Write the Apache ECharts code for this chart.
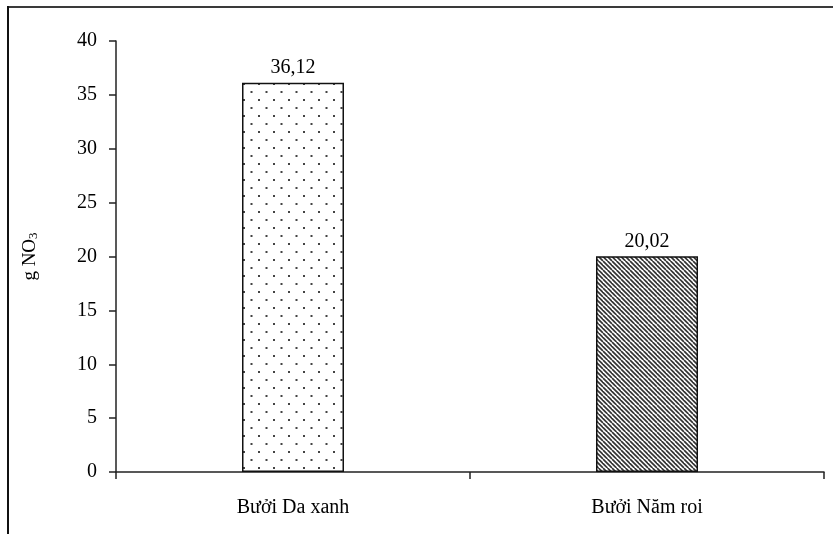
<!DOCTYPE html>
<html>
<head>
<meta charset="utf-8">
<script src="https://cdn.jsdelivr.net/npm/echarts@6/dist/echarts.min.js"></script>
<style>
  html, body { margin: 0; padding: 0; background: #fff; }
  #chart { width: 833px; height: 534px; }
</style>
</head>
<body>
<div id="chart"></div>
<script>
// Nitrate content per pomelo variety
const categories = ['Bưởi Da xanh', 'Bưởi Năm roi'];
const values = [36.12, 20.02];
const valueLabels = ['36,12', '20,02'];
const yTicks = { min: 0, max: 40, interval: 5 };

const FONT = '"Liberation Serif", "Times New Roman", serif';
const FS = 20;

// Staggered dot fill
function dotPattern() {
  const c = document.createElement('canvas');
  c.width = 15; c.height = 16;
  const g = c.getContext('2d');
  g.fillStyle = '#fff';
  g.fillRect(0, 0, 15, 16);
  g.fillStyle = '#444';
  g.fillRect(3, 3, 2, 2);
  g.fillRect(10.5, 11, 2, 2);
  return c;
}

// Diagonal hatch fill (top-left to bottom-right)
function hatchPattern() {
  const s = 9;
  const c = document.createElement('canvas');
  c.width = s; c.height = s;
  const g = c.getContext('2d');
  g.fillStyle = '#fff';
  g.fillRect(0, 0, s, s);
  g.strokeStyle = '#333';
  g.lineWidth = 1.7;
  for (let k = -s; k <= s; k += s / 2) {
    g.beginPath();
    g.moveTo(k, 0);
    g.lineTo(k + s, s);
    g.stroke();
  }
  return c;
}

const fills = [
  { image: dotPattern(), repeat: 'repeat' },
  { image: hatchPattern(), repeat: 'repeat' }
];

const chart = echarts.init(document.getElementById('chart'), null, { renderer: 'canvas' });

chart.setOption({
  animation: false,
  backgroundColor: '#fff',
  textStyle: { fontFamily: FONT },
  grid: { left: 116, right: 9, top: 41, bottom: 62, containLabel: false },
  graphic: [
    { type: 'line', shape: { x1: 8, y1: 7, x2: 833, y2: 7 }, style: { stroke: '#3a3a3a', lineWidth: 2 } },
    { type: 'line', shape: { x1: 8, y1: 6, x2: 8, y2: 534 }, style: { stroke: '#111', lineWidth: 2 } }
  ],
  xAxis: {
    type: 'category',
    data: categories,
    boundaryGap: true,
    axisLine: { lineStyle: { color: '#222', width: 1.5 } },
    axisTick: { show: true, interval: 0, length: 7, alignWithLabel: false, lineStyle: { color: '#222', width: 1.5 } },
    axisLabel: { color: '#000', fontSize: FS, fontFamily: FONT, margin: 26 }
  },
  yAxis: {
    type: 'value',
    min: yTicks.min,
    max: yTicks.max,
    interval: yTicks.interval,
    name: '{a|g NO}{s|3}',
    nameLocation: 'middle',
    nameRotate: 90,
    nameGap: 76,
    nameTextStyle: {
      color: '#000', fontSize: 19, fontFamily: FONT,
      rich: {
        a: { fontSize: 19, fontFamily: FONT, color: '#000' },
        s: { fontSize: 13, fontFamily: FONT, color: '#000', padding: [7, 0, 0, 0] }
      }
    },
    axisLine: { show: true, lineStyle: { color: '#222', width: 1.5 } },
    axisTick: { show: true, length: 7, lineStyle: { color: '#222', width: 1.5 } },
    splitLine: { show: false },
    axisLabel: { color: '#000', fontSize: FS, fontFamily: FONT, margin: 19 }
  },
  series: [{
    type: 'bar',
    barWidth: 102,
    data: values.map((v, i) => ({
      value: v,
      itemStyle: { color: fills[i], borderColor: '#111', borderWidth: 1.5 },
      label: { formatter: valueLabels[i] }
    })),
    label: {
      show: true,
      position: 'top',
      distance: 5,
      color: '#000',
      fontSize: FS,
      fontFamily: FONT
    }
  }]
});
</script>
</body>
</html>
